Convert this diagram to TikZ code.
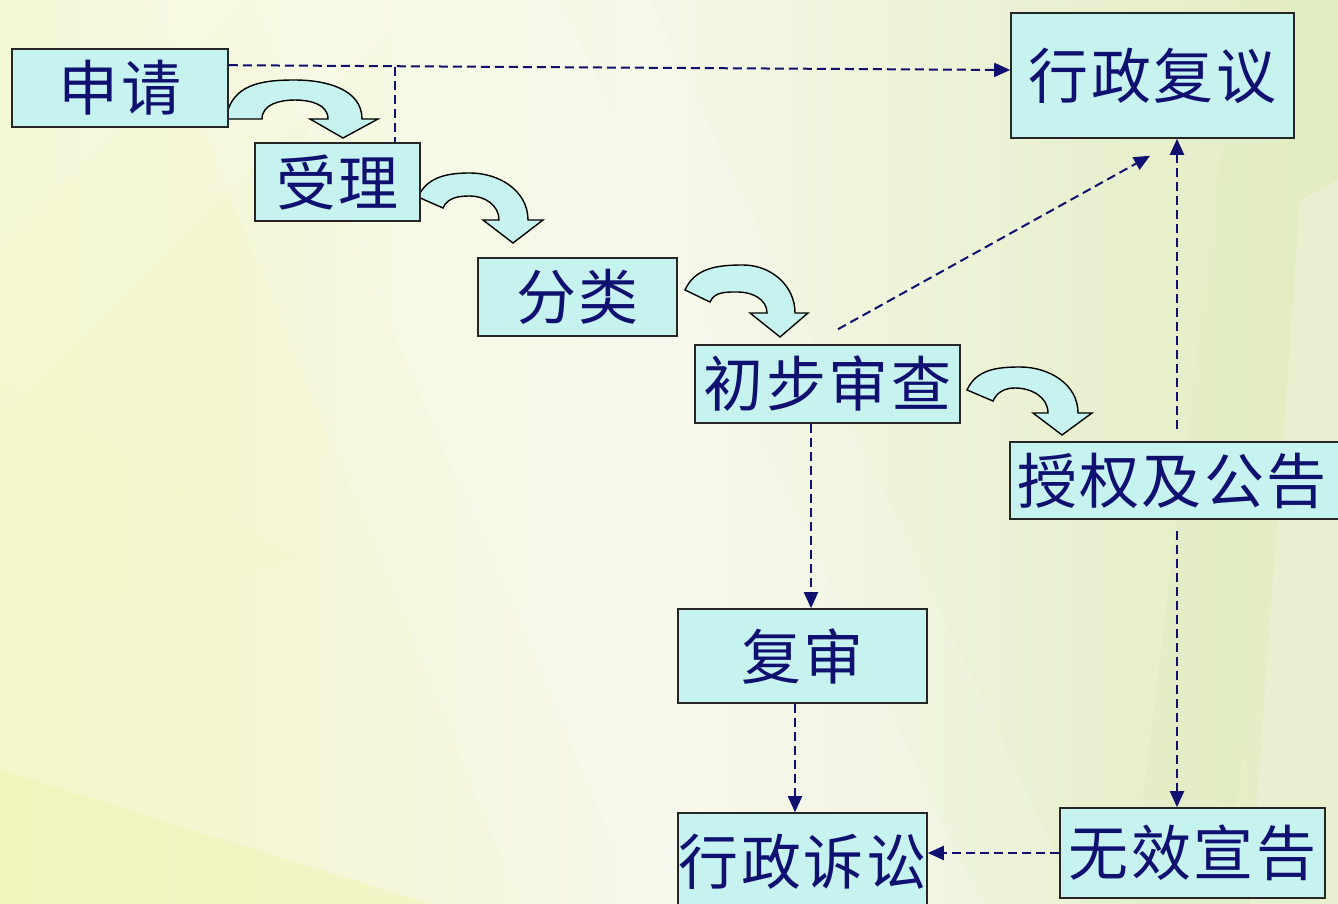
\documentclass[tikz,border=0pt]{standalone}
\usepackage{fontspec}
\newfontfamily\cjk[LetterSpace=4]{Noto Sans CJK SC}
\usetikzlibrary{arrows.meta,calc,backgrounds}
\definecolor{boxc}{RGB}{198,242,240}
\definecolor{navyc}{RGB}{16,16,112}
\definecolor{bgyel}{RGB}{243,246,200}
\definecolor{bgwhite}{RGB}{245,247,230}
\definecolor{bggreen}{RGB}{226,236,194}
\definecolor{bgdeep}{RGB}{238,242,168}
\tikzset{
  stepbox/.style={draw=black!85, line width=1.6pt, fill=boxc, inner sep=0pt,
    font=\cjk\fontsize{60}{62}\selectfont, text=navyc},
  dashlink/.style={draw=navyc, line width=2pt, dash pattern=on 9pt off 5pt},
  tipped/.style={dashlink, -{Triangle[length=16pt,width=14pt]}},
  blockarrow/.style={draw=black, line width=1.4pt, fill=boxc, line join=miter}
}
\begin{document}
\begin{tikzpicture}[x=1pt,y=-1pt]
\useasboundingbox (0,0) rectangle (1338,904);

% ---------- nodes ----------
\node[stepbox, minimum width=216pt, minimum height=78pt] (sq) at (120,88) {申请};
\node[stepbox, minimum width=165pt, minimum height=78pt] (sl) at (337.5,182) {受理};
\node[stepbox, minimum width=199pt, minimum height=78pt] (fl) at (577.5,297) {分类};
\node[stepbox, minimum width=265pt, minimum height=78pt] (cb) at (827.5,384) {初步审查};
\node[stepbox, minimum width=340pt, minimum height=77pt, text width=326pt, align=left] (sg) at (1180,480.5) {授权及公告};
\node[stepbox, minimum width=283pt, minimum height=125pt] (xz) at (1152.5,75.5) {行政复议};
\node[stepbox, minimum width=249pt, minimum height=94pt] (fs) at (802.5,656) {复审};
\node[stepbox, minimum width=249pt, minimum height=98pt] (ss) at (802.5,862) {行政诉讼};
\node[stepbox, minimum width=265pt, minimum height=90pt] (wx) at (1192.5,853) {无效宣告};

% ---------- background and block arrows ----------
\begin{scope}[on background layer]
  \shade[left color=bgyel, right color=bggreen, middle color=bgwhite] (0,0) rectangle (1338,904);
  \fill[white, opacity=0.15] (150,0) -- (650,0) -- (1080,904) -- (520,904) -- cycle;
  \fill[white, opacity=0.15] (250,0) -- (560,0) -- (980,904) -- (640,904) -- cycle;
  \fill[white, opacity=0.15] (0,0) -- (420,0) -- (0,420) -- cycle;
  \fill[white, opacity=0.15] (0,0) -- (250,0) -- (0,250) -- cycle;
  \fill[bgdeep, opacity=0.4] (0,770) -- (430,904) -- (0,904) -- cycle;
  \fill[bgyel, opacity=0.3] (0,380) -- (300,560) -- (0,620) -- cycle;
  \fill[bggreen, opacity=0.35] (1240,0) -- (1338,0) -- (1338,160) -- (1220,904) -- (1130,904) -- cycle;
  \fill[white, opacity=0.2] (1300,200) -- (1338,180) -- (1338,904) -- (1250,904) -- cycle;

  % 申请 -> 受理
  \path[blockarrow] (228,119) -- (262,119) to[out=90,in=180] (295,100)
     to[out=0,in=90] (328,119) -- (310,119) -- (343,138) -- (378,119) -- (362,119)
     to[out=90,in=0] (295,80) to[out=180,in=72] (228,110) -- cycle;
  % 受理 -> 分类
  \path[blockarrow] (418,197) to[out=66,in=180] (470,173) to[out=0,in=90] (528,220)
     -- (543,220) -- (513,243) -- (483,220) -- (499,220)
     to[out=90,in=0] (470,196) to[out=180,in=66] (443,208) -- cycle;
  % 分类 -> 初步审查
  \path[blockarrow] (685,290) to[out=66,in=180] (743,265) to[out=0,in=90] (795,313)
     -- (808,313) -- (780,337) -- (750,313) -- (767,313)
     to[out=90,in=0] (738,292) to[out=180,in=66] (710,302) -- cycle;
  % 初步审查 -> 授权及公告
  \path[blockarrow] (967,390) to[out=66,in=180] (1020,367) to[out=0,in=90] (1078,413)
     -- (1092,413) -- (1062,435) -- (1033,413) -- (1048,413)
     to[out=90,in=0] (1015,388) to[out=180,in=66] (993,401) -- cycle;
\end{scope}

% ---------- dashed connectors ----------
\draw[tipped] ($(sq.north east)+(0,17)$) -- ($(xz.west)+(0,-5.5)$);
\coordinate (j) at (395,66.6);
\draw[dashlink] (j) -- (j |- sl.north);
\coordinate (cbtop) at ($(cb.north)+(10.5,-15)$);
\coordinate (xzlow) at ($(xz.south)+(-2.5,17)$);
\draw[tipped] (cbtop) -- (xzlow);
\coordinate (sgtop) at ($(sg.north)+(-3,-12)$);
\draw[tipped] (sgtop) -- (sgtop |- xz.south);
\coordinate (cbbot) at ($(cb.south)+(-16.5,0)$);
\draw[tipped] (cbbot) -- (cbbot |- fs.north);
\coordinate (fsbot) at ($(fs.south)+(-7.5,0)$);
\draw[tipped] (fsbot) -- (fsbot |- ss.north);
\coordinate (sgbot) at ($(sg.south)+(-3,11)$);
\draw[tipped] (sgbot) -- (sgbot |- wx.north);
\draw[tipped] (wx.west) -- (wx.west -| ss.east);
\end{tikzpicture}
\end{document}
